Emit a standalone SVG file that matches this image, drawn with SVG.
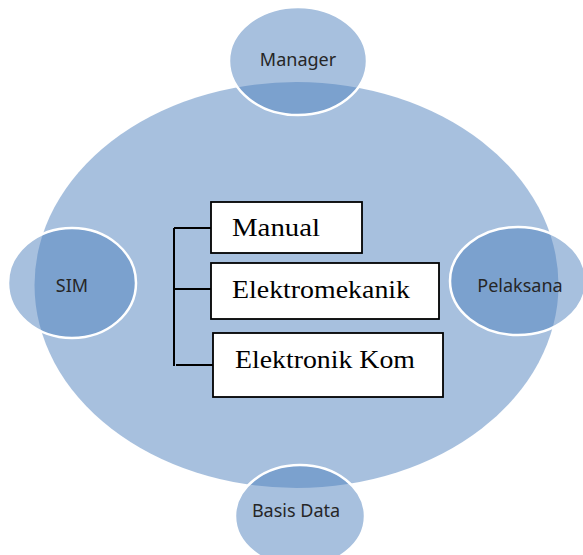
<svg xmlns="http://www.w3.org/2000/svg" width="583" height="555" viewBox="0 0 583 555">
<style>
.big{fill:#4F81BD;fill-opacity:0.5}
.sat{fill:#4F81BD;fill-opacity:0.5;stroke:#FFFFFF;stroke-width:2.5}
.lbl{font-family:"Noto Sans","Open Sans",sans-serif;font-size:18px;fill:#262626;text-anchor:middle}
.box{fill:#FFFFFF;stroke:#000000;stroke-width:1.8}
.btxt{font-family:"Liberation Serif","Times New Roman",serif;font-size:25px;fill:#000000}
.conn{fill:none;stroke:#000000;stroke-width:2}
</style>
<rect width="583" height="555" fill="#FFFFFF"/>
<g id="main"><ellipse class="big" cx="296.5" cy="285" rx="262" ry="203"/></g>
<g id="manager"><ellipse class="sat" cx="298" cy="61" rx="69" ry="54"/><text class="lbl" x="298" y="66">Manager</text></g>
<g id="sim"><ellipse class="sat" cx="72" cy="283" rx="64" ry="55"/><text class="lbl" x="72" y="292">SIM</text></g>
<g id="pelaksana"><ellipse class="sat" cx="518" cy="281" rx="68" ry="54"/><text class="lbl" x="520" y="292">Pelaksana</text></g>
<g id="basisdata"><ellipse class="sat" cx="300" cy="516" rx="65" ry="51"/><text class="lbl" x="296" y="517">Basis Data</text></g>
<g id="connectors">
<path class="conn" d="M174,228 V366 M174,228 H211 M174,289 H211 M176,365 H213"/>
</g>
<g id="manual"><rect class="box" x="211" y="202" width="151" height="51"/><text class="btxt" x="232" y="236" textLength="88" lengthAdjust="spacingAndGlyphs">Manual</text></g>
<g id="elektromekanik"><rect class="box" x="211" y="263" width="228" height="56"/><text class="btxt" x="232" y="298" textLength="178" lengthAdjust="spacingAndGlyphs">Elektromekanik</text></g>
<g id="elektronikkom"><rect class="box" x="213" y="333" width="230" height="64"/><text class="btxt" x="235" y="368" textLength="180" lengthAdjust="spacingAndGlyphs">Elektronik Kom</text></g>
</svg>
